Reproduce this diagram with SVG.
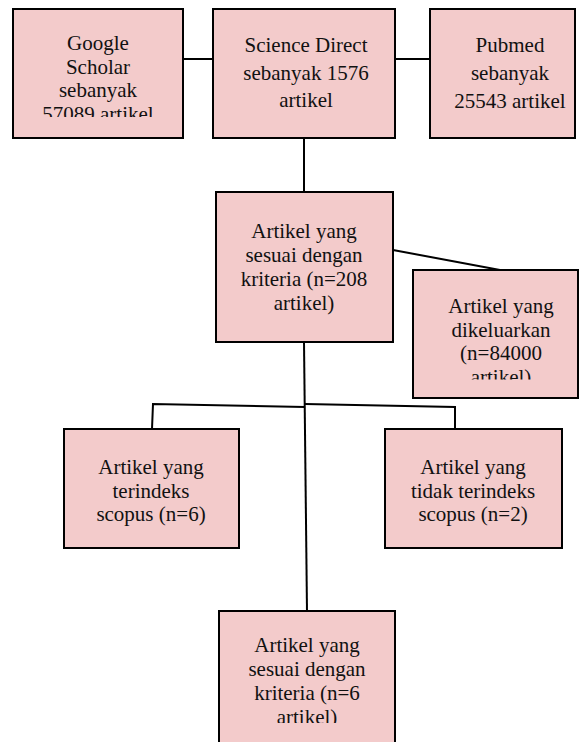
<svg xmlns="http://www.w3.org/2000/svg" width="579" height="742" viewBox="0 0 579 742">
<style>
.box{fill:#F3CBCB;stroke:#000;stroke-width:2}
.t{font-family:'Liberation Serif','DejaVu Serif',serif;font-size:21px;fill:#111;text-anchor:middle}
.c{fill:none;stroke:#000;stroke-width:2}
</style>
<defs>
<clipPath id="clipG"><rect x="13" y="9" width="170" height="108"/></clipPath>
<clipPath id="clipE"><rect x="413" y="270" width="166" height="109.5"/></clipPath>
<clipPath id="clipB"><rect x="219" y="611" width="176" height="112"/></clipPath>
</defs>
<rect width="579" height="742" fill="#fff"/>
<g id="connectors">
<line class="c" x1="183" y1="59" x2="213" y2="59"/>
<line class="c" x1="395" y1="59" x2="430" y2="59"/>
<line class="c" x1="304" y1="138" x2="304" y2="192"/>
<line class="c" x1="393" y1="250" x2="500" y2="270"/>
<line class="c" x1="304" y1="342" x2="307" y2="611"/>
<polyline class="c" points="152,429 153,404 305,407"/>
<polyline class="c" points="305,404 455,407 455,429"/>
</g>
<g id="google">
<rect class="box" x="13" y="9" width="170" height="129"/>
<g clip-path="url(#clipG)">
<text class="t" x="98" y="50">Google</text>
<text class="t" x="98" y="74">Scholar</text>
<text class="t" x="98" y="97">sebanyak</text>
<text class="t" x="98" y="121">57089 artikel</text>
</g>
</g>
<g id="sciencedirect">
<rect class="box" x="213" y="9" width="182" height="129"/>
<text class="t" x="306" y="52">Science Direct</text>
<text class="t" x="306" y="80">sebanyak 1576</text>
<text class="t" x="306" y="107">artikel</text>
</g>
<g id="pubmed">
<rect class="box" x="430" y="9" width="145" height="129"/>
<text class="t" x="510" y="52">Pubmed</text>
<text class="t" x="510" y="80">sebanyak</text>
<text class="t" x="510" y="108">25543 artikel</text>
</g>
<g id="sesuai208">
<rect class="box" x="216" y="192" width="177" height="150"/>
<text class="t" x="304" y="238">Artikel yang</text>
<text class="t" x="304" y="262">sesuai dengan</text>
<text class="t" x="304" y="286">kriteria (n=208</text>
<text class="t" x="304" y="310">artikel)</text>
</g>
<g id="dikeluarkan">
<rect class="box" x="413" y="270" width="165" height="128"/>
<g clip-path="url(#clipE)">
<text class="t" x="501" y="313">Artikel yang</text>
<text class="t" x="501" y="337">dikeluarkan</text>
<text class="t" x="501" y="360">(n=84000</text>
<text class="t" x="501" y="384">artikel)</text>
</g>
</g>
<g id="terindeks">
<rect class="box" x="64" y="429" width="175" height="119"/>
<text class="t" x="151" y="474">Artikel yang</text>
<text class="t" x="151" y="498">terindeks</text>
<text class="t" x="151" y="521">scopus (n=6)</text>
</g>
<g id="tidakterindeks">
<rect class="box" x="385" y="429" width="177" height="119"/>
<text class="t" x="473" y="474">Artikel yang</text>
<text class="t" x="473" y="498">tidak terindeks</text>
<text class="t" x="473" y="521">scopus (n=2)</text>
</g>
<g id="sesuai6">
<rect class="box" x="219" y="611" width="176" height="150"/>
<g clip-path="url(#clipB)">
<text class="t" x="307" y="652">Artikel yang</text>
<text class="t" x="307" y="676">sesuai dengan</text>
<text class="t" x="307" y="700">kriteria (n=6</text>
<text class="t" x="307" y="724">artikel)</text>
</g>
</g>
</svg>
